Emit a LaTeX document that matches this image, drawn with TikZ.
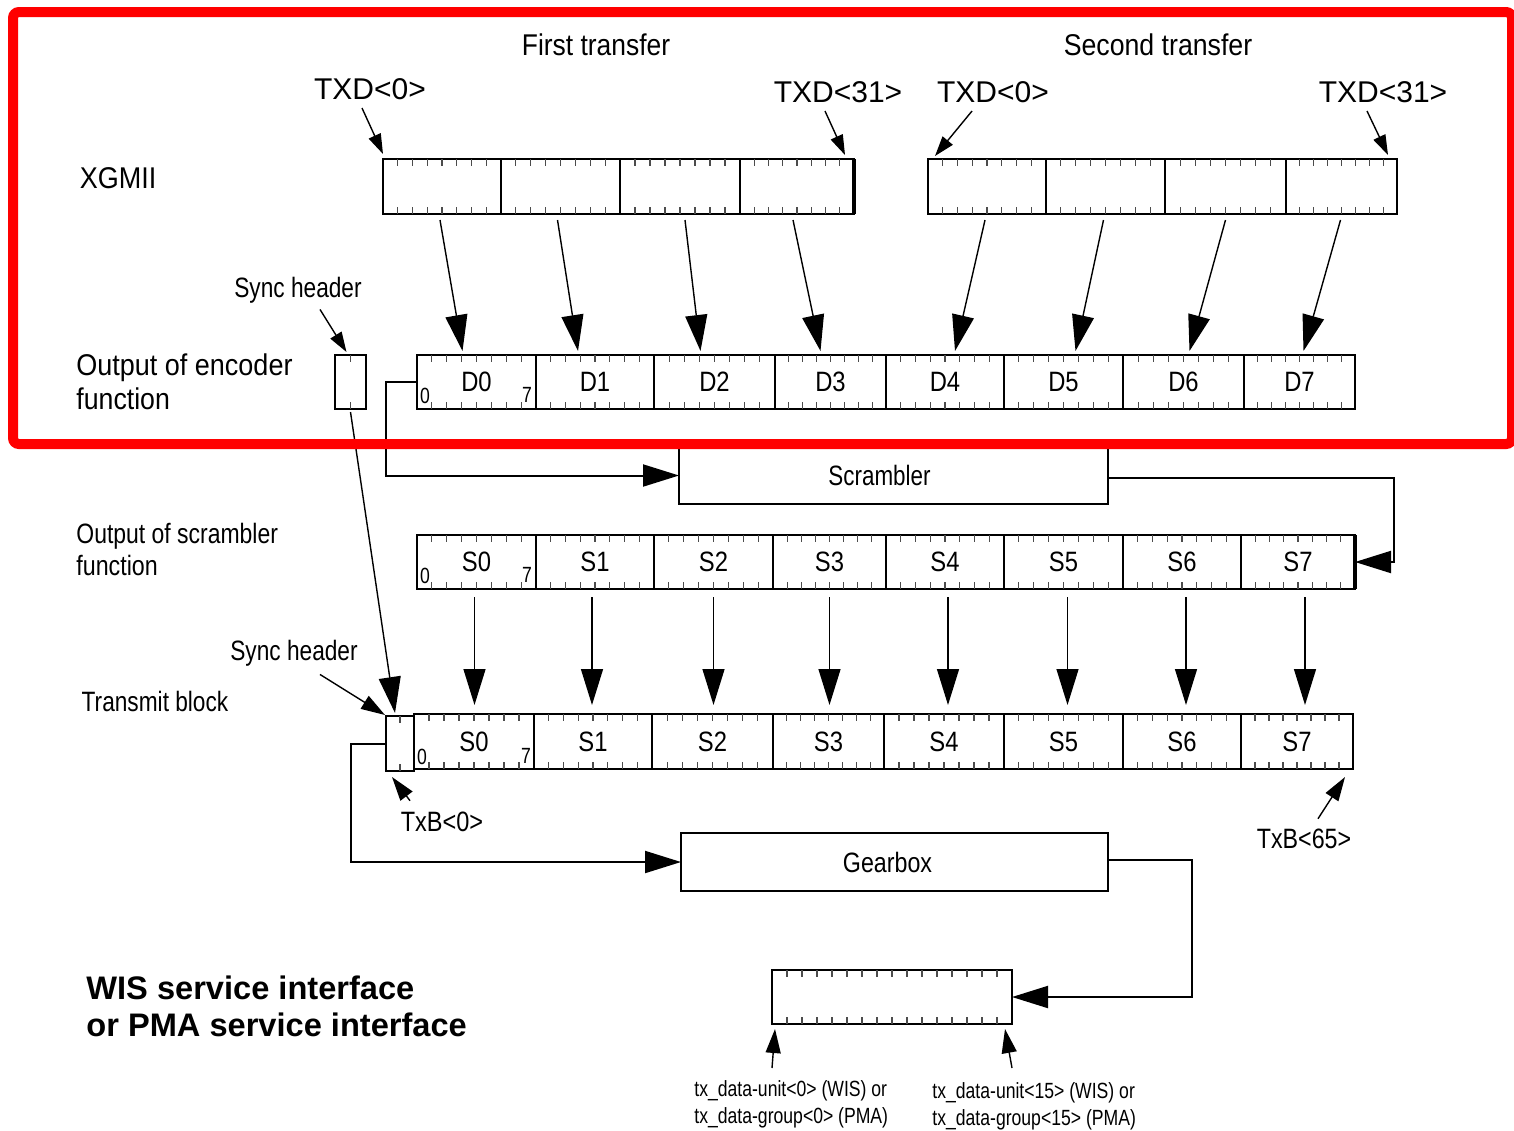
\documentclass[tikz,border=0pt]{standalone}
\usepackage{fontspec}
\setmainfont{Liberation Sans}
\usetikzlibrary{arrows.meta,calc}
\newcommand\nt[2][0.85]{\scalebox{#1}[1]{#2}}
\newcommand\bitcell[7]{%
  \pgfmathsetmacro\bcw{(#4-#2)*0.5}%
  \pgfmathsetmacro\bch{(#5-#3)*0.5}%
  \node[cellbox,minimum width=\bcw pt,minimum height=\bch pt] (#1) at ({(#2+#4)/2},{(#3+#5)/2}) {#7};%
  \pgfmathtruncatemacro\bcn{#6-1}%
  \foreach \k in {1,...,\bcn}{%
    \draw[tick] ($(#1.north west)!\k/#6!(#1.north east)$) -- ++(0,7);
    \draw[tick] ($(#1.south west)!\k/#6!(#1.south east)$) -- ++(0,-7);
  }%
}
\begin{document}
\begin{tikzpicture}[x=0.5pt,y=-0.5pt,
  cellbox/.style={draw,line width=1.1pt,inner sep=0pt,outer sep=0pt,font=\fontsize{14}{16}\selectfont},
  plainbox/.style={draw,line width=1.1pt,inner sep=0pt,outer sep=0pt,font=\fontsize{14}{16}\selectfont},
  tick/.style={line width=0.6pt,black!70},
  lbl/.style={inner sep=0pt,font=\fontsize{14}{16}\selectfont},
  biglbl/.style={inner sep=0pt,font=\fontsize{15}{17}\selectfont},
  smalllbl/.style={inner sep=0pt,font=\fontsize{11}{13}\selectfont},
  tinylbl/.style={inner sep=0pt,font=\fontsize{11}{13.5}\selectfont,align=left,anchor=west},
  bigtip/.style={-{Triangle[length=18pt,width=11pt]}},
  midtip/.style={-{Triangle[length=12pt,width=7.5pt]}},
  smalltip/.style={-{Triangle[length=10pt,width=6.5pt]}},
  conn/.style={line width=1pt},
  thinline/.style={line width=0.7pt},
]
\useasboundingbox (0,0) rectangle (1514,1130);

% ---------- labels ----------
\node[biglbl] (ft) at (596,45) {\nt[0.88]{First transfer}};
\node[biglbl] (st) at (1158,45) {\nt[0.89]{Second transfer}};
\node[biglbl] (t0a) at (370,89) {TXD<0>};
\node[biglbl] (t31a) at (838,92) {TXD<31>};
\node[biglbl] (t0b) at (993,92) {TXD<0>};
\node[biglbl] (t31b) at (1383,92) {TXD<31>};
\node[biglbl] (xg) at (118,178) {\nt[0.9]{XGMII}};
\node[lbl] (sh1) at (298,290) {\nt[0.81]{Sync header}};
\node[biglbl,align=left,anchor=west] (enc) at (76,382) {\nt[0.9]{Output of encoder}\\\nt[0.89]{function}};
\node[lbl,align=left,anchor=west] (scl) at (76,549) {\nt[0.82]{Output of scrambler}\\\nt[0.83]{function}};
\node[lbl] (sh2) at (294,653) {\nt[0.81]{Sync header}};
\node[lbl] (tbl) at (155,701) {\nt[0.81]{Transmit block}};
\node[lbl] (txb0) at (442,822) {\nt[0.84]{TxB<0>}};
\node[lbl] (txb65) at (1304,839) {\nt[0.83]{TxB<65>}};
\node[inner sep=0pt,font=\fontsize{16.3}{18.5}\selectfont\bfseries,align=left,anchor=west] (wis) at (86,1006) {WIS service interface\\or PMA service interface};
\node[tinylbl] (bl) at (694,1104) {\nt[0.8]{tx\_data-unit<0> (WIS) or}\\\nt[0.8]{tx\_data-group<0> (PMA)}};
\node[tinylbl] (br) at (932,1106) {\nt[0.8]{tx\_data-unit<15> (WIS) or}\\\nt[0.8]{tx\_data-group<15> (PMA)}};

% ---------- XGMII ----------
\bitcell{xa0}{383}{159}{501}{214}{8}{}
\bitcell{xa1}{501}{159}{620}{214}{8}{}
\bitcell{xa2}{620}{159}{740}{214}{8}{}
\bitcell{xa3}{740}{159}{854}{214}{8}{}
\draw[line width=2.2pt] (xa3.north east) -- (xa3.south east);
\bitcell{xb0}{928}{159}{1046}{214}{8}{}
\bitcell{xb1}{1046}{159}{1165}{214}{8}{}
\bitcell{xb2}{1165}{159}{1286}{214}{8}{}
\bitcell{xb3}{1286}{159}{1397}{214}{8}{}

% ---------- encoder output ----------
\bitcell{ss1}{335}{355}{366}{409}{2}{}
\bitcell{d0}{417}{355}{536}{409}{8}{\nt{D0}}
\bitcell{d1}{536}{355}{654}{409}{8}{\nt{D1}}
\bitcell{d2}{654}{355}{775}{409}{8}{\nt{D2}}
\bitcell{d3}{775}{355}{886}{409}{8}{\nt{D3}}
\bitcell{d4}{886}{355}{1004}{409}{8}{\nt{D4}}
\bitcell{d5}{1004}{355}{1123}{409}{8}{\nt{D5}}
\bitcell{d6}{1123}{355}{1244}{409}{8}{\nt{D6}}
\bitcell{d7}{1244}{355}{1355}{409}{8}{\nt{D7}}
\node[smalllbl] (dz) at (425,396) {\nt[0.8]{0}};
\node[smalllbl] (ds) at (527,395) {\nt[0.8]{7}};

% ---------- scrambler ----------
\node[plainbox,minimum width=214.5pt,minimum height=28.5pt] (scr) at (893.5,475.5) {\nt[0.8]{Scrambler}\hspace*{14pt}};

% ---------- scrambler output ----------
\bitcell{s0}{417}{535}{536}{589}{8}{\nt{S0}}
\bitcell{s1}{536}{535}{654}{589}{8}{\nt{S1}}
\bitcell{s2}{654}{535}{773}{589}{8}{\nt{S2}}
\bitcell{s3}{773}{535}{886}{589}{8}{\nt{S3}}
\bitcell{s4}{886}{535}{1004}{589}{8}{\nt{S4}}
\bitcell{s5}{1004}{535}{1123}{589}{8}{\nt{S5}}
\bitcell{s6}{1123}{535}{1241}{589}{8}{\nt{S6}}
\bitcell{s7}{1241}{535}{1355}{589}{8}{\nt{S7}}
\draw[line width=2.2pt] (s7.north east) -- (s7.south east);
\node[smalllbl] (sz) at (425,576) {\nt[0.8]{0}};
\node[smalllbl] (ssv) at (527,575) {\nt[0.8]{7}};

% ---------- transmit block ----------
\bitcell{ts}{386}{716}{414}{771}{2}{}
\bitcell{t0}{414}{714}{534}{769}{8}{\nt{S0}}
\bitcell{t1}{534}{714}{652}{769}{8}{\nt{S1}}
\bitcell{t2}{652}{714}{773}{769}{8}{\nt{S2}}
\bitcell{t3}{773}{714}{884}{769}{8}{\nt{S3}}
\bitcell{t4}{884}{714}{1004}{769}{8}{\nt{S4}}
\bitcell{t5}{1004}{714}{1123}{769}{8}{\nt{S5}}
\bitcell{t6}{1123}{714}{1241}{769}{8}{\nt{S6}}
\bitcell{t7}{1241}{714}{1353}{769}{8}{\nt{S7}}
\node[smalllbl] (tz) at (422,757) {\nt[0.8]{0}};
\node[smalllbl] (tsv) at (526,756) {\nt[0.8]{7}};

% ---------- gearbox & output ----------
\node[plainbox,minimum width=213.5pt,minimum height=29pt] (gb) at (894.5,862) {\nt[0.83]{Gearbox}\hspace*{7pt}};
\bitcell{bb}{772}{970}{1012}{1024}{16}{}

% ---------- connectors ----------
\draw[thinline,smalltip] ($(t0a.south)+(-8,8)$) -- ($(xa0.north west)+(0,-5)$);
\draw[thinline,smalltip] ($(t31a.south)+(-13,8)$) -- ($(xa3.north east)+(-9,-4)$);
\draw[thinline,smalltip] ($(t0b.south)+(-21,8)$) -- ($(xb0.north west)+(7,-3)$);
\draw[thinline,smalltip] ($(t31b.south)+(-16,8)$) -- ($(xb3.north east)+(-9,-4)$);

\foreach \a/\b/\u/\v in {xa0/d0/-2/-14, xa1/d1/-3/-17, xa2/d2/5/-14, xa3/d3/-4/-10,
                          xb0/d4/-2/10, xb1/d5/-2/12, xb2/d6/0/6, xb3/d7/-1/4}
  \draw[thinline,bigtip] ($(\a.south)+(\u,6)$) -- ($(\b.north)+(\v,-4)$);

\draw[thinline,smalltip] ($(sh1.south)+(22,6)$) -- ($(ss1.north)+(-4,-3)$);
\draw[thinline,bigtip] ($(ss1.south)+(0,3)$) -- ($(ts.north)+(-5,-3)$);
\draw[thinline,midtip] ($(sh2.south)+(26,8)$) -- ($(ts.north west)+(-1,-1)$);

\draw[conn,bigtip] (d0.west) -- ++(-31,0) |- (scr.west);
\draw[conn,bigtip] ($(scr.east)+(0,2)$) -| ($(s7.east)+(39,0)$) -- (s7.east);

\foreach \i/\u in {0/-2,1/-3,2/0,3/0,4/3,5/4,6/4,7/7}
  \draw[thinline,bigtip] ($(s\i.south)+(\u,8)$) -- ($(s\i.south |- t\i.north)+(\u,-9)$);

\draw[thinline,midtip] ($(txb0.north)+(-32,-11)$) -- ($(ts.south west)+(6,6)$);
\draw[thinline,midtip] ($(txb65.north)+(14,-10)$) -- ($(t7.south east)+(-8,8)$);

\draw[conn,bigtip] (ts.west) -- ++(-35,0) |- (gb.west);
\draw[conn,bigtip] ($(gb.east)+(0,-2)$) -| ($(bb.east)+(180,0)$) -- (bb.east);

\draw[thinline,midtip] ($(bb.south west)+(0,44)$) -- ($(bb.south west)+(3,5)$);
\draw[thinline,midtip] ($(bb.south east)+(0,44)$) -- ($(bb.south east)+(-7,5)$);

% ---------- red highlight ----------
\draw[red,line width=5pt,rounded corners=3pt] (13,12) rectangle (1512,444);
\end{tikzpicture}
\end{document}
